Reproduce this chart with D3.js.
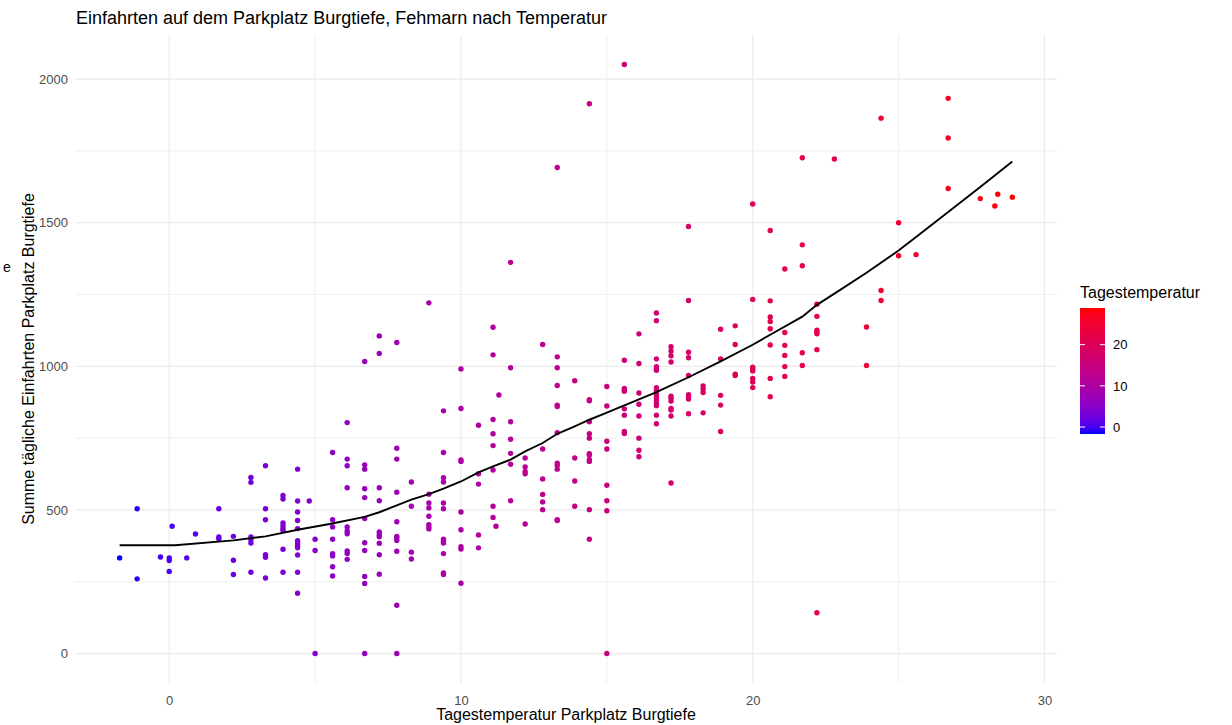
<!DOCTYPE html>
<html>
<head>
<meta charset="utf-8">
<script src="https://cdn.jsdelivr.net/npm/d3@7"></script>
<style>
  body { margin: 0; background: #fff; }
  svg { display: block; font-family: "Liberation Sans", Arial, sans-serif; }
</style>
</head>
<body>
<svg id="chart" width="1232" height="725"></svg>
<script>

// Tagestemperatur (°C), eine Spalte je Temperaturstufe
const tempStufen = [-1.7, -1.1, -0.3, 0.0, 0.1, 0.6, 0.9, 1.7, 2.2, 2.8, 3.3, 3.9, 4.4, 4.8, 5.0, 5.6, 6.1, 6.7,
  7.2, 7.8, 8.3, 8.9, 9.4, 10.0, 10.6, 11.1, 11.2, 11.3, 11.7, 12.2, 12.8, 13.3, 13.9, 14.4, 15.0, 15.6, 16.1,
  16.7, 17.2, 17.8, 18.3, 18.9, 19.4, 20.0, 20.6, 21.1, 21.7, 22.2, 22.8, 23.9, 24.4, 25.0, 25.6, 26.7, 27.8,
  28.3, 28.4, 28.9];

// Summe tägliche Einfahrten je Stufe
const einfahrtenJeStufe = [
  [333],
  [504, 260],
  [336],
  [333, 324, 286],
  [443],
  [333],
  [416],
  [504, 406, 400],
  [408, 325, 275],
  [613, 596, 406, 397, 385, 283],
  [654, 504, 466, 344, 335, 263],
  [550, 538, 455, 445, 435, 429, 363, 283],
  [642, 531, 493, 463, 435, 393, 385, 376, 368, 343, 283, 210],
  [531],
  [398, 359, 0],
  [700, 466, 441, 398, 348, 340, 302, 270],
  [804, 677, 654, 577, 441, 427, 417, 357, 348, 328],
  [1017, 657, 642, 574, 543, 470, 386, 359, 268, 244, 0],
  [1106, 1045, 577, 532, 423, 414, 407, 384, 344, 276],
  [1083, 715, 677, 562, 459, 408, 402, 394, 356, 168, 0],
  [597, 513, 353, 329],
  [1221, 555, 524, 507, 478, 449, 441, 434],
  [845, 700, 612, 597, 524, 504, 398, 391, 385, 348, 281, 275],
  [991, 853, 674, 669, 493, 431, 372, 364, 245],
  [795, 626, 590, 413, 368],
  [1136, 1040, 815, 765, 724, 639, 513, 474],
  [443],
  [900],
  [1362, 995, 807, 746, 697, 659, 532],
  [681, 650, 634, 626, 451],
  [1076, 712, 608, 554, 528, 501],
  [1692, 1033, 995, 933, 865, 860, 769, 663, 655, 642, 466, 463],
  [950, 681, 601, 513],
  [1914, 884, 880, 807, 765, 750, 696, 690, 675, 669, 501, 398],
  [930, 862, 739, 712, 586, 532, 497, 0],
  [2051, 1021, 923, 919, 913, 852, 830, 773, 766],
  [1113, 1010, 907, 868, 827, 750, 708, 685],
  [1186, 1159, 1026, 999, 991, 986, 926, 915, 903, 892, 881, 872, 863, 830, 800],
  [1068, 1053, 1037, 1015, 896, 889, 879, 853, 848, 827, 594],
  [1487, 1229, 1049, 1030, 968, 901, 894, 886, 835],
  [932, 921, 909, 838],
  [1129, 1026, 899, 865, 773],
  [1141, 1076, 973, 968],
  [1565, 1233, 997, 991, 984, 958, 945, 926],
  [1473, 1228, 1172, 1156, 1131, 1074, 958, 894],
  [1339, 1118, 1073, 1038, 999, 965],
  [1726, 1423, 1350, 1047, 1003],
  [1216, 1174, 1126, 1120, 1113, 1058, 142],
  [1722],
  [1137, 1003],
  [1864, 1264, 1229],
  [1500, 1385],
  [1389],
  [1933, 1795, 1619],
  [1584],
  [1558],
  [1599],
  [1589]
];

// geglaettete Kurve
const kurveTemp = [-1.7, 0.2, 2.2, 3.3, 4.4, 5.5, 6.7, 7.2, 8.3, 8.9, 9.4, 10.0, 10.6, 11.1, 11.7, 12.2, 12.8,
  13.3, 13.9, 14.4, 15.0, 15.6, 16.1, 16.7, 17.8, 18.9, 20.0, 20.6, 21.7, 22.2, 23.0, 23.9, 25.0, 25.6, 26.7,
  27.8, 28.9];
const kurveWert = [377, 377, 394, 408, 431, 451, 476, 492, 536, 555, 574, 599, 631, 652, 675, 704, 733,
  765, 791, 814, 839, 864, 885, 910, 962, 1017, 1075, 1110, 1173, 1214, 1266, 1326, 1403, 1450, 1537,
  1624, 1713];

const xTicks = [0, 10, 20, 30];
const xMinor = [5, 15, 25];
const yTicks = [0, 500, 1000, 1500, 2000];
const yMinor = [250, 750, 1250, 1750];
const legendTicks = [0, 10, 20];

const punkte = tempStufen.flatMap((t, i) => einfahrtenJeStufe[i].map(v => ({ t: t, v: v })));

const svg = d3.select("#chart");
const pLeft = 75, pRight = 1057, pTop = 35, pBottom = 683;

// ggplot-artige Erweiterung um 5%
let xExt = d3.extent(punkte, d => d.t);
let yExt = d3.extent(punkte, d => d.v);
let xPad = (xExt[1] - xExt[0]) * 0.05, yPad = (yExt[1] - yExt[0]) * 0.05;

let x = d3.scaleLinear().domain([xExt[0] - xPad, xExt[1] + xPad]).range([pLeft, pRight]);
let y = d3.scaleLinear().domain([yExt[0] - yPad, yExt[1] + yPad]).range([pBottom, pTop]);

let farbe = d3.scaleLinear().domain(xExt).range(["blue", "red"]).interpolate(d3.interpolateLab);

svg.append("rect").attr("width", 1232).attr("height", 725).attr("fill", "#fff");

// Gitter
let grid = svg.append("g");
grid.selectAll(".xmin").data(xMinor).enter().append("line")
  .attr("x1", d => x(d)).attr("x2", d => x(d)).attr("y1", pTop).attr("y2", pBottom)
  .attr("stroke", "#EBEBEB").attr("stroke-width", 0.8);
grid.selectAll(".ymin").data(yMinor).enter().append("line")
  .attr("y1", d => y(d)).attr("y2", d => y(d)).attr("x1", pLeft).attr("x2", pRight)
  .attr("stroke", "#EBEBEB").attr("stroke-width", 0.8);
grid.selectAll(".xmaj").data(xTicks).enter().append("line")
  .attr("x1", d => x(d)).attr("x2", d => x(d)).attr("y1", pTop).attr("y2", pBottom)
  .attr("stroke", "#EBEBEB").attr("stroke-width", 1.2);
grid.selectAll(".ymaj").data(yTicks).enter().append("line")
  .attr("y1", d => y(d)).attr("y2", d => y(d)).attr("x1", pLeft).attr("x2", pRight)
  .attr("stroke", "#EBEBEB").attr("stroke-width", 1.2);

// Achsen (ohne Linien, nur Beschriftung)
let xAxis = svg.append("g").attr("transform", "translate(0," + pBottom + ")")
  .call(d3.axisBottom(x).tickValues(xTicks).tickSize(0).tickPadding(13).tickFormat(d3.format("d")));
let yAxis = svg.append("g").attr("transform", "translate(" + pLeft + ",0)")
  .call(d3.axisLeft(y).tickValues(yTicks).tickSize(0).tickPadding(7).tickFormat(d3.format("d")));
[xAxis, yAxis].forEach(a => {
  a.select(".domain").remove();
  a.selectAll("text").attr("fill", "#4D4D4D").style("font-size", "13px")
    .style("font-family", "'Liberation Sans', Arial, sans-serif");
});

// Punkte
svg.append("g").selectAll("circle").data(punkte).enter().append("circle")
  .attr("cx", d => x(d.t))
  .attr("cy", d => y(d.v))
  .attr("r", 2.7)
  .attr("fill", d => farbe(d.t));

// Kurve
let linie = d3.line().x(d => x(d[0])).y(d => y(d[1]));
svg.append("path")
  .datum(kurveTemp.map((t, i) => [t, kurveWert[i]]))
  .attr("d", linie)
  .attr("fill", "none")
  .attr("stroke", "#000")
  .attr("stroke-width", 1.9);

// Titel
svg.append("text").attr("x", 76).attr("y", 24).style("font-size", "18px").attr("fill", "#000")
  .text("Einfahrten auf dem Parkplatz Burgtiefe, Fehmarn nach Temperatur");
svg.append("text").attr("x", (pLeft + pRight) / 2).attr("y", 720).attr("text-anchor", "middle")
  .style("font-size", "16px").attr("fill", "#000").text("Tagestemperatur Parkplatz Burgtiefe");
svg.append("text").attr("transform", "translate(33.5," + (pTop + pBottom) / 2 + ") rotate(-90)")
  .attr("text-anchor", "middle").style("font-size", "16px").attr("fill", "#000")
  .text("Summe tägliche Einfahrten Parkplatz Burgtiefe");
svg.append("text").attr("x", 3).attr("y", 272).style("font-size", "14px").attr("fill", "#000").text("e");

// Legende
let lx = 1080, lw = 25, lTop = 308, lBottom = 434;
let ly = d3.scaleLinear().domain(xExt).range([lBottom, lTop]);
let grad = svg.append("defs").append("linearGradient").attr("id", "verlauf")
  .attr("x1", 0).attr("y1", 1).attr("x2", 0).attr("y2", 0);
grad.selectAll("stop").data(d3.range(0, 1.0001, 0.05)).enter().append("stop")
  .attr("offset", d => d)
  .attr("stop-color", d => farbe(xExt[0] + d * (xExt[1] - xExt[0])));
svg.append("rect").attr("x", lx).attr("y", lTop).attr("width", lw).attr("height", lBottom - lTop)
  .attr("fill", "url(#verlauf)");
let lt = svg.append("g");
lt.selectAll(".l").data(legendTicks).enter().append("line")
  .attr("x1", lx).attr("x2", lx + 5).attr("y1", d => ly(d)).attr("y2", d => ly(d))
  .attr("stroke", "#fff").attr("stroke-width", 1);
lt.selectAll(".r").data(legendTicks).enter().append("line")
  .attr("x1", lx + lw - 5).attr("x2", lx + lw).attr("y1", d => ly(d)).attr("y2", d => ly(d))
  .attr("stroke", "#fff").attr("stroke-width", 1);
lt.selectAll("text").data(legendTicks).enter().append("text")
  .attr("x", lx + lw + 8).attr("y", d => ly(d)).attr("dy", "0.36em")
  .style("font-size", "13px").attr("fill", "#000").text(d => d);
svg.append("text").attr("x", 1080).attr("y", 298).style("font-size", "16px").attr("fill", "#000")
  .text("Tagestemperatur");

</script>
</body>
</html>
